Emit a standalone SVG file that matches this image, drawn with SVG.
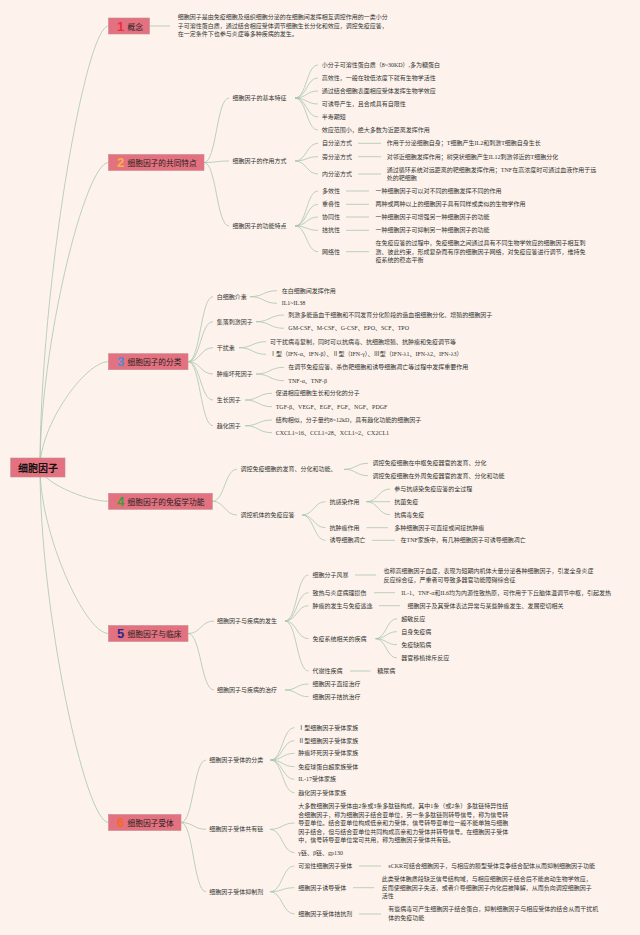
<svg xmlns="http://www.w3.org/2000/svg" width="640" height="935" viewBox="0 0 640 935">
<style>
.c path{fill:none;stroke:#a9c6af;stroke-width:0.8}
.box{fill:#e4717f;stroke:#c38a8f;stroke-width:0.6}
text{dominant-baseline:central}
.t{font-family:"Liberation Serif","Noto Sans CJK SC",serif;font-size:6px;fill:#333}
.l{font-family:"Noto Sans CJK SC",sans-serif;font-size:7.7px;fill:#222}
.n{font-family:"Liberation Sans",sans-serif;font-size:13px;font-weight:bold}
.r{font-family:"Noto Sans CJK SC",sans-serif;font-size:10px;font-weight:bold;fill:#111}
</style>
<rect width="640" height="935" fill="#fdf3ec"/>
<g id="connectors" class="c">
<path d="M40,467.5C40,290.9 85,26 108.5,26"/>
<path d="M40,467.5C40,345.5 85,162.5 108.5,162.5"/>
<path d="M40,467.5C40,425.2 85,361.7 108.5,361.7"/>
<path d="M40,467.5C40,481 85,501.3 108.5,501.3"/>
<path d="M40,467.5C40,533.9 85,633.5 108.5,633.5"/>
<path d="M40,467.5C40,609.5 85,822.5 108.5,822.5"/>
<path d="M149.5,26H170"/>
<path d="M204,162.5C216.5,162.5 216.5,98 229,98"/>
<path d="M204,162.5C216.5,162.5 216.5,161 229,161"/>
<path d="M204,162.5C216.5,162.5 216.5,226 229,226"/>
<path d="M295,98C306.5,98 306.5,65 318,65"/>
<path d="M295,98C306.5,98 306.5,78 318,78"/>
<path d="M295,98C306.5,98 306.5,91 318,91"/>
<path d="M295,98C306.5,98 306.5,104 318,104"/>
<path d="M295,98C306.5,98 306.5,117 318,117"/>
<path d="M295,98C306.5,98 306.5,130 318,130"/>
<path d="M295,161C306.5,161 306.5,143.3 318,143.3"/>
<path d="M295,161C306.5,161 306.5,156.7 318,156.7"/>
<path d="M295,161C306.5,161 306.5,174 318,174"/>
<path d="M295,226C306.5,226 306.5,191 318,191"/>
<path d="M295,226C306.5,226 306.5,204.3 318,204.3"/>
<path d="M295,226C306.5,226 306.5,217 318,217"/>
<path d="M295,226C306.5,226 306.5,230.3 318,230.3"/>
<path d="M295,226C306.5,226 306.5,251.7 318,251.7"/>
<path d="M358,143.3H381M358,156.7H381M358,174H381"/>
<path d="M346,191H369M346,204.3H369M346,217H369M346,230.3H369M346,251.7H369"/>
<path d="M188,361.7C200.5,361.7 200.5,296.7 213,296.7"/>
<path d="M188,361.7C200.5,361.7 200.5,321.7 213,321.7"/>
<path d="M188,361.7C200.5,361.7 200.5,347.7 213,347.7"/>
<path d="M188,361.7C200.5,361.7 200.5,374 213,374"/>
<path d="M188,361.7C200.5,361.7 200.5,400 213,400"/>
<path d="M188,361.7C200.5,361.7 200.5,425.7 213,425.7"/>
<path d="M250,296.7C263.5,296.7 263.5,290.7 277,290.7"/>
<path d="M250,296.7C263.5,296.7 263.5,303.3 277,303.3"/>
<path d="M256,321.7C270,321.7 270,315 284,315"/>
<path d="M256,321.7C270,321.7 270,328.3 284,328.3"/>
<path d="M239,347.7C252.5,347.7 252.5,341.7 266,341.7"/>
<path d="M239,347.7C252.5,347.7 252.5,354.3 266,354.3"/>
<path d="M256,374C270,374 270,367.3 284,367.3"/>
<path d="M256,374C270,374 270,380.7 284,380.7"/>
<path d="M245,400C258.5,400 258.5,393.3 272,393.3"/>
<path d="M245,400C258.5,400 258.5,406.7 272,406.7"/>
<path d="M245,425.7C258.5,425.7 258.5,420 272,420"/>
<path d="M245,425.7C258.5,425.7 258.5,432.7 272,432.7"/>
<path d="M212.3,501.3C224.7,501.3 224.7,469.3 237,469.3"/>
<path d="M212.3,501.3C224.7,501.3 224.7,515 237,515"/>
<path d="M344,469.3C356,469.3 356,463.3 368,463.3"/>
<path d="M344,469.3C356,469.3 356,475.7 368,475.7"/>
<path d="M302,515C313.8,515 313.8,501.7 325.5,501.7"/>
<path d="M302,515C313.8,515 313.8,527.7 325.5,527.7"/>
<path d="M302,515C313.8,515 313.8,540.3 325.5,540.3"/>
<path d="M366.5,501.7C378.3,501.7 378.3,489 390,489"/>
<path d="M366.5,501.7C378.3,501.7 378.3,501.7 390,501.7"/>
<path d="M366.5,501.7C378.3,501.7 378.3,514.7 390,514.7"/>
<path d="M366.5,527.7H388M372,540.3H395"/>
<path d="M188,633.5C201,633.5 201,621 214,621"/>
<path d="M188,633.5C201,633.5 201,690 214,690"/>
<path d="M285,621C296.8,621 296.8,575 308.5,575"/>
<path d="M285,621C296.8,621 296.8,592.7 308.5,592.7"/>
<path d="M285,621C296.8,621 296.8,605.7 308.5,605.7"/>
<path d="M285,621C296.8,621 296.8,638.7 308.5,638.7"/>
<path d="M285,621C296.8,621 296.8,671 308.5,671"/>
<path d="M285,690C296.8,690 296.8,684 308.5,684"/>
<path d="M285,690C296.8,690 296.8,696.7 308.5,696.7"/>
<path d="M355,575H376M374,592.7H395M379,605.7H400M350,671H370.5"/>
<path d="M375.5,638.7C386.3,638.7 386.3,618.7 397,618.7"/>
<path d="M375.5,638.7C386.3,638.7 386.3,631.7 397,631.7"/>
<path d="M375.5,638.7C386.3,638.7 386.3,644.7 397,644.7"/>
<path d="M375.5,638.7C386.3,638.7 386.3,658 397,658"/>
<path d="M181,822.5C193.5,822.5 193.5,760 206,760"/>
<path d="M181,822.5C193.5,822.5 193.5,829.3 206,829.3"/>
<path d="M181,822.5C193.5,822.5 193.5,891.7 206,891.7"/>
<path d="M270.5,760C282.5,760 282.5,727.7 294.5,727.7"/>
<path d="M270.5,760C282.5,760 282.5,740.7 294.5,740.7"/>
<path d="M270.5,760C282.5,760 282.5,753.3 294.5,753.3"/>
<path d="M270.5,760C282.5,760 282.5,766.7 294.5,766.7"/>
<path d="M270.5,760C282.5,760 282.5,779.3 294.5,779.3"/>
<path d="M270.5,760C282.5,760 282.5,792.7 294.5,792.7"/>
<path d="M270,829.3C282.3,829.3 282.3,823 294.5,823"/>
<path d="M270,829.3C282.3,829.3 282.3,852.7 294.5,852.7"/>
<path d="M270,891.7C282.3,891.7 282.3,866 294.5,866"/>
<path d="M270,891.7C282.3,891.7 282.3,887.7 294.5,887.7"/>
<path d="M270,891.7C282.3,891.7 282.3,914 294.5,914"/>
<path d="M359,866H381M353,887.7H374M359,914H381"/>
</g>
<g id="root"><rect class="box" x="10.7" y="458" width="54.3" height="19"/><text class="r" x="38" y="467.5" text-anchor="middle">细胞因子</text></g>
<g id="b1"><rect class="box" x="108.5" y="18" width="41" height="16"/><text class="n" x="117" y="26" fill="#e8303f">1</text><text class="l" x="127.5" y="26">概念</text></g>
<g id="b1-def"><text class="t" x="177.7" y="17">细胞因子是由免疫细胞及组织细胞分泌的在细胞间发挥相互调控作用的一类小分</text><text class="t" x="177.7" y="25.5">子可溶性蛋白质，通过结合相应受体调节细胞生长分化和效应，调控免疫应答，</text><text class="t" x="177.7" y="34">在一定条件下也参与炎症等多种疾病的发生。</text></g>
<g id="b2"><rect class="box" x="108.5" y="154.5" width="95.5" height="16"/><text class="n" x="117" y="162.5" fill="#f5b546">2</text><text class="l" x="127.5" y="162.5">细胞因子的共同特点</text></g>
<g id="b2-1"><text class="t" x="232.6" y="98">细胞因子的基本特征</text></g>
<g id="b2-1-items"><text class="t" x="321.7" y="65">小分子可溶性蛋白质（8~30KD）,多为糖蛋白</text><text class="t" x="321.7" y="78">高效性，一般在较低浓度下就有生物学活性</text><text class="t" x="321.7" y="91">通过结合细胞表面相应受体发挥生物学效应</text><text class="t" x="321.7" y="104">可诱导产生，且合成具有自限性</text><text class="t" x="321.7" y="117">半寿期短</text><text class="t" x="321.7" y="130">效应范围小，绝大多数为近距离发挥作用</text></g>
<g id="b2-2"><text class="t" x="232.6" y="161">细胞因子的作用方式</text></g>
<g id="b2-2-1"><text class="t" x="322" y="143.3">自分泌方式</text><text class="t" x="386.8" y="143.3">作用于分泌细胞自身；T细胞产生IL2和刺激T细胞自身生长</text></g>
<g id="b2-2-2"><text class="t" x="322" y="156.7">旁分泌方式</text><text class="t" x="386.8" y="156.7">对邻近细胞发挥作用；树突状细胞产生IL12刺激邻近的T细胞分化</text></g>
<g id="b2-2-3"><text class="t" x="322" y="174">内分泌方式</text><text class="t" x="386.8" y="169.5">通过循环系统对远距离的靶细胞发挥作用；TNF在高浓度时可通过血液作用于远</text><text class="t" x="386.8" y="178.3">处的靶细胞</text></g>
<g id="b2-3"><text class="t" x="232.6" y="226">细胞因子的功能特点</text></g>
<g id="b2-3-1"><text class="t" x="322" y="191">多效性</text><text class="t" x="375.5" y="191">一种细胞因子可以对不同的细胞发挥不同的作用</text></g>
<g id="b2-3-2"><text class="t" x="322" y="204.3">重叠性</text><text class="t" x="375.5" y="204.3">两种或两种以上的细胞因子具有同样或类似的生物学作用</text></g>
<g id="b2-3-3"><text class="t" x="322" y="217">协同性</text><text class="t" x="375.5" y="217">一种细胞因子可增强另一种细胞因子的功能</text></g>
<g id="b2-3-4"><text class="t" x="322" y="230.3">拮抗性</text><text class="t" x="375.5" y="230.3">一种细胞因子可抑制另一种细胞因子的功能</text></g>
<g id="b2-3-5"><text class="t" x="322" y="251.7">网络性</text><text class="t" x="375.5" y="243">在免疫应答的过程中，免疫细胞之间通过具有不同生物学效应的细胞因子相互刺</text><text class="t" x="375.5" y="251.7">激、彼此约束，形成复杂而有序的细胞因子网络，对免疫应答进行调节，维持免</text><text class="t" x="375.5" y="260.4">疫系统的稳态平衡</text></g>
<g id="b3"><rect class="box" x="108.5" y="353.7" width="79.5" height="16"/><text class="n" x="117" y="361.7" fill="#4a8fd8">3</text><text class="l" x="127.5" y="361.7">细胞因子的分类</text></g>
<g id="b3-1"><text class="t" x="216.7" y="296.7">白细胞介素</text><text class="t" x="281.7" y="290.7">在白细胞间发挥作用</text><text class="t" x="281.7" y="303.3">IL1~IL38</text></g>
<g id="b3-2"><text class="t" x="216.7" y="321.7">集落刺激因子</text><text class="t" x="288.3" y="315">刺激多能造血干细胞和不同发育分化阶段的造血祖细胞分化、增殖的细胞因子</text><text class="t" x="288.3" y="328.3">GM-CSF、M-CSF、G-CSF、EPO、SCF、TPO</text></g>
<g id="b3-3"><text class="t" x="216.7" y="347.7">干扰素</text><text class="t" x="270" y="341.7">可干扰病毒复制，同时可以抗病毒、抗细胞增殖、抗肿瘤和免疫调节等</text><text class="t" x="270" y="354.3">Ⅰ型（IFN-α、IFN-β）、Ⅱ型（IFN-γ）、Ⅲ型（IFN-λ1、IFN-λ2、IFN-λ3）</text></g>
<g id="b3-4"><text class="t" x="216.7" y="374">肿瘤坏死因子</text><text class="t" x="288.3" y="367.3">在调节免疫应答、杀伤靶细胞和诱导细胞凋亡等过程中发挥重要作用</text><text class="t" x="288.3" y="380.7">TNF-α、TNF-β</text></g>
<g id="b3-5"><text class="t" x="216.7" y="400">生长因子</text><text class="t" x="275.7" y="393.3">促进相应细胞生长和分化的分子</text><text class="t" x="275.7" y="406.7">TGF-β、VEGF、EGF、FGF、NGF、PDGF</text></g>
<g id="b3-6"><text class="t" x="216.7" y="425.7">趋化因子</text><text class="t" x="275.7" y="420">结构相似，分子量约8~12kD，具有趋化功能的细胞因子</text><text class="t" x="275.7" y="432.7">CXCL1~16、CCL1~28、XCL1~2、CX2CL1</text></g>
<g id="b4"><rect class="box" x="108.5" y="493.3" width="103.8" height="16"/><text class="n" x="117" y="501.3" fill="#3b9e3b">4</text><text class="l" x="127.5" y="501.3">细胞因子的免疫学功能</text></g>
<g id="b4-1"><text class="t" x="240.4" y="469.3">调控免疫细胞的发育、分化和功能、</text><text class="t" x="372.6" y="463.3">调控免疫细胞在中枢免疫器官的发育、分化</text><text class="t" x="372.6" y="475.7">调控免疫细胞在外周免疫器官的发育、分化和功能</text></g>
<g id="b4-2"><text class="t" x="240.4" y="515">调控机体的免疫应答</text></g>
<g id="b4-2-1"><text class="t" x="329.5" y="501.7">抗感染作用</text><text class="t" x="394.3" y="489">参与抗感染免疫应答的全过程</text><text class="t" x="394.3" y="501.7">抗菌免疫</text><text class="t" x="394.3" y="514.7">抗病毒免疫</text></g>
<g id="b4-2-2"><text class="t" x="329.5" y="527.7">抗肿瘤作用</text><text class="t" x="394.3" y="527.7">多种细胞因子可直接或间接抗肿瘤</text></g>
<g id="b4-2-3"><text class="t" x="329.5" y="540.3">诱导细胞凋亡</text><text class="t" x="400.5" y="540.3">在TNF家族中，有几种细胞因子可诱导细胞凋亡</text></g>
<g id="b5"><rect class="box" x="108.5" y="625.5" width="79.5" height="16"/><text class="n" x="117" y="633.5" fill="#2b2a8c">5</text><text class="l" x="127.5" y="633.5">细胞因子与临床</text></g>
<g id="b5-1"><text class="t" x="217" y="621">细胞因子与疾病的发生</text></g>
<g id="b5-1-1"><text class="t" x="312.5" y="575">细胞分子风暴</text><text class="t" x="383.4" y="570.7">也称高细胞因子血症，表现为短期内机体大量分泌各种细胞因子，引发全身炎症</text><text class="t" x="383.4" y="579.7">反应综合征，严重者可导致多器官功能障碍综合征</text></g>
<g id="b5-1-2"><text class="t" x="312.5" y="592.7">致热与炎症病理损伤</text><text class="t" x="401.3" y="592.7">IL-1、TNF-α和IL6均为内源性致热原，可作用于下丘脑体温调节中枢，引起发热</text></g>
<g id="b5-1-3"><text class="t" x="312.5" y="605.7">肿瘤的发生与免疫逃逸</text><text class="t" x="407.5" y="605.7">细胞因子及其受体表达异常与某些肿瘤发生、发展密切相关</text></g>
<g id="b5-1-4"><text class="t" x="312.5" y="638.7">免疫系统相关的疾病</text><text class="t" x="401.3" y="618.7">超敏反应</text><text class="t" x="401.3" y="631.7">自身免疫病</text><text class="t" x="401.3" y="644.7">免疫缺陷病</text><text class="t" x="401.3" y="658">器官移植排斥反应</text></g>
<g id="b5-1-5"><text class="t" x="312.5" y="671">代谢性疾病</text><text class="t" x="377.2" y="671">糖尿病</text></g>
<g id="b5-2"><text class="t" x="217" y="690">细胞因子与疾病的治疗</text><text class="t" x="312.5" y="684">细胞因子直接治疗</text><text class="t" x="312.5" y="696.7">细胞因子拮抗治疗</text></g>
<g id="b6"><rect class="box" x="108.5" y="814.5" width="72.5" height="16"/><text class="n" x="117" y="822.5" fill="#f46b20">6</text><text class="l" x="127.5" y="822.5">细胞因子受体</text></g>
<g id="b6-1"><text class="t" x="209.3" y="760">细胞因子受体的分类</text><text class="t" x="298.3" y="727.7">Ⅰ型细胞因子受体家族</text><text class="t" x="298.3" y="740.7">Ⅱ型细胞因子受体家族</text><text class="t" x="298.3" y="753.3">肿瘤坏死因子受体家族</text><text class="t" x="298.3" y="766.7">免疫球蛋白超家族受体</text><text class="t" x="298.3" y="779.3">IL-17受体家族</text><text class="t" x="298.3" y="792.7">趋化因子受体家族</text></g>
<g id="b6-2"><text class="t" x="209.3" y="829.3">细胞因子受体共有链</text><text class="t" x="298.3" y="806">大多数细胞因子受体由2条或3条多肽链构成，其中1条（或2条）多肽链特异性结</text><text class="t" x="298.3" y="814.5">合细胞因子，称为细胞因子结合亚单位，另一条多肽链则转导信号，称为信号转</text><text class="t" x="298.3" y="823">导亚单位。结合亚单位构成低亲和力受体，信号转导亚单位一般不能单独与细胞</text><text class="t" x="298.3" y="831.5">因子结合，但与结合亚单位共同构成高亲和力受体并转导信号。在细胞因子受体</text><text class="t" x="298.3" y="840">中，信号转导亚单位常可共用，称为细胞因子受体共有链。</text><text class="t" x="298.3" y="852.7">γ链、β链、gp130</text></g>
<g id="b6-3"><text class="t" x="209.3" y="891.7">细胞因子受体抑制剂</text></g>
<g id="b6-3-1"><text class="t" x="298.3" y="866">可溶性细胞因子受体</text><text class="t" x="388.3" y="866">sCKR可结合细胞因子，与相应的膜型受体竞争结合配体从而抑制细胞因子功能</text></g>
<g id="b6-3-2"><text class="t" x="298.3" y="887.7">细胞因子诱导受体</text><text class="t" x="381.7" y="879">此类受体胞质段缺乏信号结构域，与相应细胞因子结合后不能启动生物学效应，</text><text class="t" x="381.7" y="887.7">反而使细胞因子失活，或者介导细胞因子内化后被降解，从而负向调控细胞因子</text><text class="t" x="381.7" y="896.4">活性</text></g>
<g id="b6-3-3"><text class="t" x="298.3" y="914">细胞因子受体拮抗剂</text><text class="t" x="388.3" y="909.3">有些病毒可产生细胞因子结合蛋白，抑制细胞因子与相应受体的结合从而干扰机</text><text class="t" x="388.3" y="918.3">体的免疫功能</text></g>
</svg>
